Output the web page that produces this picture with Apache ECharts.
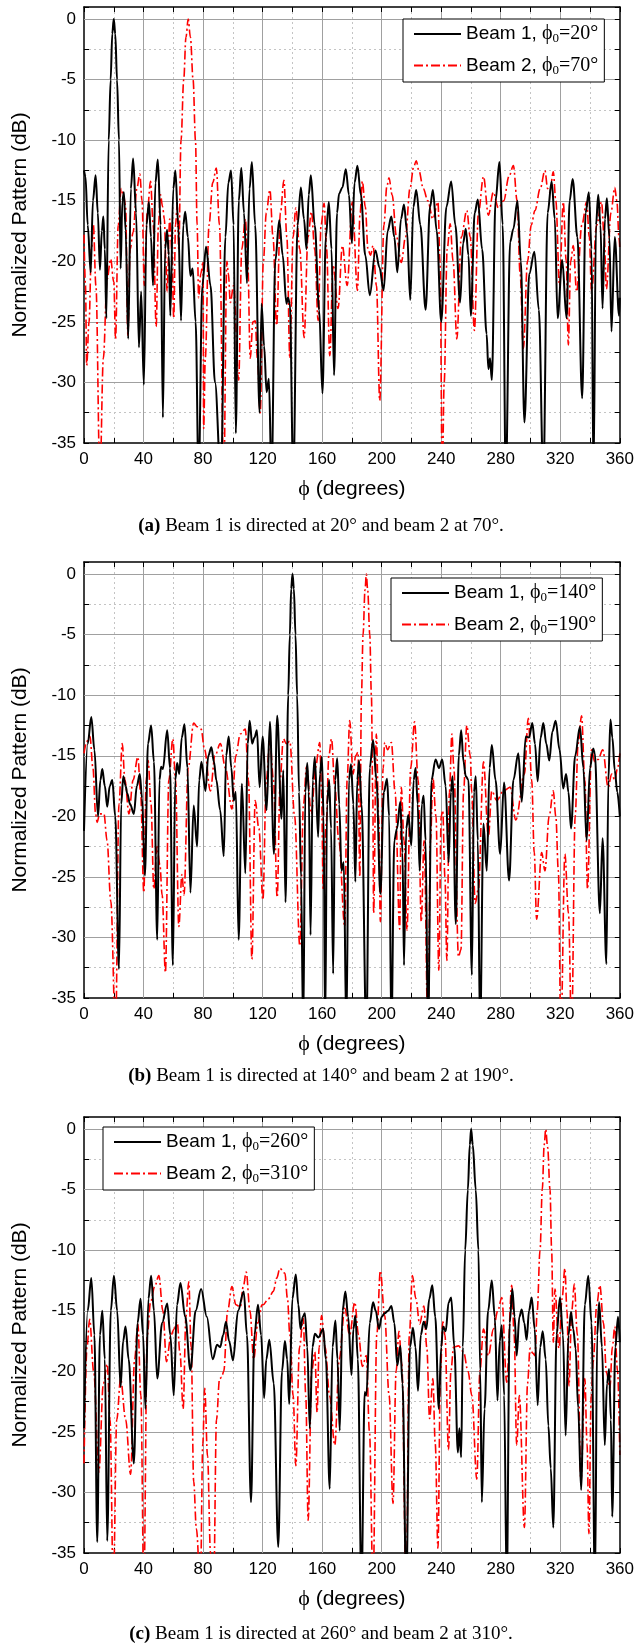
<!DOCTYPE html>
<html><head><meta charset="utf-8">
<script src="https://cdn.jsdelivr.net/npm/echarts@6/dist/echarts.min.js"></script>
<style>html,body{margin:0;padding:0;background:#fff}#c{width:637px;height:1649px}</style>
</head><body><div id="c"></div><script>
// ---------- DATA (phi in degrees, normalized pattern in dB) ----------
const steerAngles = [[20, 70], [140, 190], [260, 310]];
const panelLetters = ['a', 'b', 'c'];
const beamLabels = ['Beam 1', 'Beam 2'];

const panelA_beam1 = [[0,-12.5],[1,-13],[2.5,-17],[4.5,-20.9],[6,-15],[7.8,-12.9],[9.3,-16],[10.7,-20.7],[12,-17.5],[13,-16.3],[14,-19],[15,-24.7],[16.6,-10],[17.9,-5],[19,-1.2],[20,0],[21,-1.2],[22.2,-5],[23.5,-10],[24.6,-20.6],[25.8,-15],[26.8,-14.3],[28,-17.5],[29.7,-26.4],[31.5,-14],[33,-11.5],[35,-16],[36.9,-27.1],[38.4,-22.5],[40.2,-30.2],[42,-17],[43.6,-15.1],[45,-18],[46.4,-22],[48,-13.5],[49.6,-11.6],[51.5,-17],[53,-32.9],[54.5,-19],[55.8,-17.4],[57,-19.5],[58,-24.5],[60,-14],[61.4,-12.5],[63.3,-17],[65.2,-24.9],[66.7,-17],[68,-15.9],[69.8,-18],[71.5,-21.2],[73,-20.6],[75,-25],[77,-38],[79.5,-22],[82,-18.8],[85,-22],[88,-30],[92,-38],[95,-18],[97,-13.5],[98.8,-12.5],[100.5,-17],[102,-34.2],[104,-15],[105.7,-12.3],[107.5,-16],[109.5,-21.8],[111.2,-14],[112.8,-11.8],[115,-17],[118,-32.5],[119.3,-23.5],[121,-27],[122.7,-30.8],[124.2,-29.7],[126,-38],[128.5,-20],[131.2,-16.6],[133.5,-19.5],[136,-23.5],[137,-23],[138.3,-23.5],[140.6,-38],[143.5,-17],[145.7,-13.9],[147.8,-16.5],[149.5,-19],[151,-14.5],[152.4,-12.9],[155,-17],[158,-24],[160.2,-30.9],[162.5,-18],[164.5,-15.1],[166.3,-19],[168,-29.4],[170,-16],[171.4,-14.4],[173.6,-13.9],[175.9,-12.4],[178,-14.5],[180,-18.5],[181.8,-13.5],[183.7,-12.1],[186,-14.5],[189,-19.5],[192,-22.8],[195.8,-19.1],[198.5,-20.5],[201.3,-22.4],[204,-17.5],[206.5,-16.3],[208.5,-18],[210.5,-20.9],[213,-16.5],[215,-15.3],[217,-17.5],[219.2,-23.2],[221.3,-15.5],[223.2,-14.1],[226,-17],[229.5,-24],[232.5,-15.5],[234.4,-14.1],[237,-17.5],[240,-25],[243.5,-15.5],[246.7,-13.4],[249.5,-17],[252.7,-23.4],[254.7,-18.5],[256.5,-17.3],[258.3,-19.5],[259.9,-24.5],[262.5,-16],[264.6,-14.9],[267.5,-19],[270.5,-26],[271.7,-28.9],[272.8,-28],[274,-29.8],[276.5,-15],[279.1,-11.8],[281.3,-17],[283.4,-38],[286.3,-18.4],[288.5,-17.3],[291.2,-15],[293.5,-20],[295.9,-33.3],[299.2,-21],[302.6,-19.2],[305.6,-24],[308.6,-38],[311.5,-16],[314.2,-13.4],[316.3,-16.5],[318.2,-24.7],[321.3,-19.9],[324.2,-24.7],[326.3,-15],[328.3,-13.2],[331.5,-18],[334.7,-31.3],[337,-16],[339.2,-14.3],[341,-19],[342.3,-38],[344,-17],[345.5,-14.5],[347,-17],[348.4,-23.9],[350,-16.5],[351.3,-14.8],[353,-18],[354.4,-25.8],[356.6,-18],[359.5,-24.5],[360,-23]];

const panelA_beam2 = [[0,-17.8],[1,-22],[1.8,-28.6],[3.4,-25],[5,-19],[6.3,-17],[8,-22],[10.7,-38],[13,-28],[15.5,-21.5],[17.9,-19.8],[20,-21.7],[21.2,-26.4],[23,-17],[25,-14],[26.5,-14.5],[27.9,-15.4],[29.5,-26.1],[31,-19],[33,-17.6],[35.5,-14],[37.5,-12.8],[39,-15],[40.5,-22],[42.5,-16],[44.7,-13.4],[46.5,-17],[48.5,-25.4],[50,-17],[51.4,-14.5],[52.8,-15.5],[54,-16.5],[55,-20],[55.8,-22.5],[57.6,-16.5],[59,-19],[60.3,-24.7],[61.5,-17],[62.6,-15.4],[63.7,-19],[65.2,-10],[67,-5],[68.5,-1.5],[70,0],[71.5,-1.5],[73.3,-5],[74.9,-10],[76,-17],[77,-23],[78.5,-21],[80,-20],[80.4,-33.8],[81.5,-28],[84,-17],[86.5,-13.5],[88.9,-12.3],[91,-17],[93.9,-38],[96,-20],[97,-21],[98.3,-23.4],[100.5,-22],[103.9,-29.8],[106,-19],[108.4,-16.5],[110,-20],[111.7,-28],[113.5,-25],[115,-24.9],[116.5,-28],[118.4,-32.5],[120.5,-20],[122.5,-16],[124.9,-14.1],[127,-18],[129.4,-25.3],[132,-16],[134.3,-13.3],[136.3,-18],[138.3,-28],[140.5,-18],[142.3,-15.6],[145,-19],[147.9,-26.3],[150.5,-18],[152.8,-15.9],[155,-19],[157.3,-24.9],[159.3,-17],[161.3,-15.2],[163,-19],[165.1,-27.8],[167.4,-20.3],[170.7,-23.9],[173.6,-18.7],[176.8,-22],[180.3,-15.1],[183.7,-22.4],[185.5,-16],[187,-13.4],[189,-15.5],[190.8,-19],[192.5,-19.5],[194.2,-18.7],[196.5,-22],[198.7,-31.5],[201.5,-17],[203.5,-13.8],[204.9,-13.1],[207,-14.5],[210,-18],[213.2,-20.1],[216,-18],[219,-14],[221.5,-12.2],[223.2,-11.7],[225,-12.5],[228,-14],[231,-15],[234.4,-16.5],[237.8,-15.1],[239.2,-20],[240.7,-38],[242,-30],[244,-19],[246,-16.9],[248,-20],[250.5,-26.4],[253.5,-18],[257.2,-15.8],[259.5,-18],[262.3,-25.7],[265,-16],[268.4,-13],[271.7,-16.2],[275,-14.3],[278.4,-15.6],[282,-15],[285.5,-13],[288.5,-12.1],[291,-15],[293,-21],[295.2,-27.2],[298,-20],[300.5,-17],[303,-15.8],[306.5,-14],[309.7,-12.5],[311.5,-14],[313,-14.3],[315.3,-12.6],[317,-15],[319.5,-22],[322,-15.1],[324,-20],[325.4,-26.9],[327,-20],[328.7,-18.7],[331,-22.5],[334.5,-17],[337.7,-15.1],[339.5,-18],[341,-22.5],[344.5,-17],[347.7,-15.1],[349.5,-18],[351,-22.3],[354,-16],[356.6,-13.9],[358,-15],[359.5,-18.1],[360,-19]];

const panelB_beam1 = [[0,-21.2],[2.5,-14],[4.9,-11.8],[7,-14.5],[9.4,-20],[11,-17],[12.3,-16.1],[14,-17.5],[15.6,-19.2],[17.3,-17.5],[19,-17],[21,-20],[23.5,-32.6],[25,-19],[26.4,-16.7],[28,-17.5],[29,-18.1],[31,-19],[33.5,-19.8],[35.5,-17.5],[37.5,-16.5],[39,-18.5],[40.9,-24.9],[43,-14],[45.1,-12.5],[47,-15.5],[49.2,-30.2],[50.7,-17],[51.8,-15.9],[53,-16.1],[55.9,-12.9],[57.8,-16],[59.7,-32.3],[61.3,-17],[62.6,-15.6],[64,-16.5],[65.7,-13.5],[67.5,-12.4],[69.5,-16],[71.5,-26.3],[73.7,-19.1],[76,-22.5],[77.4,-17],[78.9,-15.5],[81.6,-17.9],[83.5,-15],[85.6,-14.3],[87.3,-15.5],[88.9,-17],[91.5,-19.5],[93.9,-23.3],[95.5,-15],[97.2,-13.4],[99,-16],[100.6,-18.7],[102,-18],[103.9,-30.2],[106.1,-17.3],[108.4,-24.7],[110,-14],[111.3,-12.1],[113,-14],[114.5,-13.5],[116.2,-12.9],[118,-17.6],[120,-13.4],[122.7,-19.5],[124.9,-12.2],[127.6,-23.1],[129.8,-11.7],[132.7,-20.2],[133.9,-16.2],[135.4,-27.1],[137.2,-10],[138.3,-5],[139.2,-1.2],[140.1,0],[141,-1.2],[142.1,-5],[143.2,-10],[144.5,-18],[145.8,-25],[147.3,-38],[148.7,-18],[150,-15.6],[151,-18],[152.2,-29.8],[153.7,-17],[155.1,-15.1],[157.3,-21.7],[158.5,-16.5],[159.8,-15.1],[161,-20],[162,-38],[163.3,-19],[164.7,-17],[166,-21],[167.4,-33],[168.8,-17],[170.1,-15.2],[171.5,-19],[173,-24.5],[174.5,-23.8],[176.3,-38],[178,-17],[179.4,-15.7],[181,-19],[182.3,-25.4],[183.6,-17],[184.8,-15.4],[186.5,-19],[189.7,-38],[192,-16],[194.2,-13.7],[196.5,-17],[199.1,-26.4],[201.5,-18],[203.6,-16.9],[205,-20],[206.5,-38],[208.5,-22],[210.3,-21],[212.5,-18.8],[214,-23],[215,-32.3],[216.5,-21],[217.9,-19.9],[219.9,-22.4],[221.5,-17],[222.8,-16],[224.2,-19],[225.5,-24.5],[227,-19],[228.2,-18.3],[229.5,-22],[231.1,-38],[233.5,-17],[236.2,-15.3],[238.5,-16],[240.7,-15.3],[243,-17.5],[245,-23.8],[246.5,-18],[247.6,-16.7],[249.8,-28.9],[251.8,-15],[253.4,-12.9],[255,-15.5],[256.5,-16.7],[258.3,-17],[260.6,-33.1],[262,-18],[263.2,-16.7],[264.6,-22],[266.1,-38],[268.4,-20.6],[270.6,-24.5],[272.5,-16],[274,-14.1],[276.5,-17],[279.6,-23.1],[282.2,-17.2],[285.6,-25.3],[288.5,-17],[291.8,-14.8],[294.1,-18.8],[296.8,-13.4],[299,-13.5],[301.2,-12.3],[303,-14],[304.8,-17.1],[306.8,-13.5],[308.6,-12.3],[310.6,-14],[312.6,-15.4],[314.7,-13],[316.9,-12.1],[319.5,-14.5],[322,-17.7],[323.9,-16.5],[325.5,-18],[327.2,-21],[330,-15],[333.2,-12.6],[335.5,-16],[337.7,-22],[340,-16],[342.1,-14.4],[343.2,-14.8],[346.6,-28],[348.4,-21.8],[351,-32.2],[352.3,-17],[353.7,-12],[355,-13.5],[356.6,-16.2],[358.3,-18],[360,-20]];

const panelB_beam2 = [[0,-14.8],[2,-13.8],[4,-13.4],[6,-16],[7.8,-19.8],[8.8,-20.5],[10.5,-19.8],[13.4,-19.8],[15.5,-22],[18,-27],[21.2,-38],[23.5,-19],[25.7,-14],[27.5,-17],[30.2,-19.8],[33,-17],[36.2,-15.1],[38,-18],[40.2,-26.3],[41.8,-17],[43.1,-15.4],[45,-19],[46.9,-26],[49,-22.5],[51,-24],[52.5,-26.5],[54.7,-32.9],[57,-17],[59.7,-13.6],[61.5,-17],[63.7,-29.1],[65.8,-24.8],[67.2,-26.5],[70,-16],[73.7,-12.3],[76,-12.6],[78.7,-12.8],[81,-14.5],[84.9,-17.9],[88,-15],[91.6,-14],[95,-16],[99.4,-19.4],[102,-15],[105,-13.2],[108.4,-12.8],[110.5,-17],[112.8,-31.8],[115,-18.7],[117.5,-21],[120.2,-26.9],[122.5,-17],[124.9,-13.7],[127.3,-17],[129.8,-26.7],[131.8,-17],[133.9,-13.6],[136,-14],[138.3,-13.8],[141.5,-20],[145,-30.7],[147.5,-19],[149.5,-15.9],[152.8,-19.8],[155.5,-16],[158.4,-13.9],[159.6,-18],[160.7,-26.1],[162.8,-20.5],[164.5,-15],[166.3,-13.6],[168.5,-17.5],[171.2,-22],[175.2,-29.1],[176.8,-17],[178.5,-12.1],[180.8,-16.5],[182.5,-15],[184.1,-14.7],[185.3,-25],[186.4,-10],[187.5,-5],[188.8,-1.3],[189.7,0],[190.6,-1.3],[192,-5],[193.1,-10],[194,-18],[194.6,-28],[196.4,-13.2],[198,-20],[199.1,-28.7],[201,-16],[202,-13.9],[204,-14.5],[206.5,-13.9],[209,-18],[212.1,-29.3],[213.2,-17.6],[215,-22],[217,-29.4],[219.5,-16],[222.1,-12.2],[224.5,-17],[226.6,-28.7],[228.5,-22],[231.1,-38],[232.8,-22],[234.4,-16.8],[236.5,-20],[238.4,-32.7],[240,-20],[241,-19.5],[242.5,-25],[243.8,-31.9],[245.5,-18],[247.2,-13.2],[248.5,-16],[251.6,-31.6],[253.3,-31],[255,-18],[257.2,-12.5],[259.5,-15],[260.5,-18],[262.8,-27.2],[265,-26],[268.4,-15.5],[271.7,-21.7],[274,-17.9],[277.3,-18.7],[281.8,-17.9],[286.3,-17.6],[290.1,-20.3],[295.9,-16.5],[298.5,-11.9],[300.8,-17],[302.5,-23],[304.1,-28.5],[307.5,-23],[309.7,-24.5],[312.5,-20],[315.3,-17.9],[317,-20],[318.7,-24.5],[320.4,-38],[323.1,-23.1],[325.5,-28],[327.6,-38],[330,-20],[332,-14],[334.3,-11.7],[336.5,-17],[338.3,-26],[341,-14.5],[343.2,-15.5],[345.5,-15.3],[348.5,-14.5],[352.2,-17.6],[354.5,-16.5],[356.6,-17],[358.5,-16],[360,-14.8]];

const panelC_beam1 = [[0,-24.7],[2.5,-15],[4.9,-12.3],[7,-17],[8.9,-34.1],[10.7,-17],[12.3,-15],[14,-19],[15.6,-34],[18,-15],[20.1,-12.1],[22.3,-15],[24.6,-21.3],[26.3,-17.5],[27.9,-16.3],[30,-19],[33.5,-27.6],[36,-16],[38,-14],[39.7,-17],[41.3,-23.1],[43.3,-14],[45.1,-12.1],[47,-15],[49.2,-20.6],[52.5,-16],[55.9,-14.4],[58,-17],[60.3,-22],[62.5,-14.5],[64.8,-12.7],[68,-15.5],[71.5,-19.9],[75,-15],[78.7,-13.2],[82.5,-15.5],[86.5,-19],[89.4,-17.8],[91.5,-18],[93.5,-17],[95.4,-15.9],[97.5,-17.5],[100.1,-19.1],[103.5,-15],[107.3,-13.4],[109.5,-17],[112.2,-30.8],[114.5,-17],[116.9,-14.5],[119,-17],[121,-22.2],[122.5,-19],[124.5,-17.4],[127.5,-21],[130.5,-34.5],[133,-20],[135,-17.5],[136.5,-19],[137.9,-22.7],[140,-14],[142.3,-12],[144,-14.5],[145.5,-16.5],[147,-15.5],[148.4,-15.2],[150,-18],[151.7,-24.7],[153.5,-18],[155.1,-16.9],[157.5,-17.2],[160.7,-16.5],[162.5,-19],[165.1,-29.7],[167,-18],[168.9,-15.8],[170.3,-19],[171.8,-24.9],[173.7,-15],[175.6,-13.4],[177.5,-15.5],[179.7,-20.3],[181,-16.5],[182.3,-15.4],[184,-19],[186.4,-38],[188.6,-21.7],[189.7,-22],[192,-16],[194.2,-14.3],[196,-15],[198.2,-16.5],[200,-15.5],[202,-15.2],[204.3,-15],[206.5,-14.6],[208.5,-16],[210.5,-19.5],[212.5,-17.9],[214,-21],[216.5,-38],[219,-18],[221,-16.4],[222.7,-18],[224.4,-21.6],[226.3,-17],[228.2,-15.9],[230,-16.5],[232,-14],[234,-12.9],[236,-15.5],[238.4,-23.1],[240,-18],[241.2,-16.3],[243,-16.7],[245,-14.3],[246.7,-13.9],[248.8,-18],[251.2,-26.7],[252.2,-24.7],[253.4,-27.1],[254.5,-18],[256.1,-10],[257.9,-5],[259.2,-1.3],[260.1,0],[261.2,-1.3],[263.2,-5],[265,-10],[266.2,-20],[267.3,-30.8],[269.1,-23.1],[271.5,-15],[274,-12.5],[276,-15.5],[277.8,-22.4],[279.3,-17.5],[280.7,-16.2],[282.3,-22],[284,-38],[286,-16],[287.8,-13.2],[289.3,-15.5],[290.7,-18.7],[292.5,-15.5],[294.1,-14.9],[295.8,-16],[297.4,-17.4],[299,-15],[300.8,-13.9],[302.8,-16.5],[304.8,-22.8],[306.5,-18],[308.2,-16.7],[310.2,-19],[312,-24.5],[313.6,-28],[315.3,-32.9],[317.5,-17],[319.8,-13.9],[321.8,-17],[323.6,-25.3],[325.5,-17],[327.2,-15.1],[328.7,-16.5],[330.3,-18.1],[332,-23],[334,-29.8],[336.5,-14.5],[338.8,-12.1],[341,-16],[343.3,-38],[344.8,-17],[346.1,-14.3],[348,-18],[349.9,-26.1],[351.4,-21],[352.8,-19.8],[354,-24],[354.9,-32],[357,-18],[358.8,-15.5],[360,-17.6]];

const panelC_beam2 = [[0,-27.6],[2,-18],[3.8,-15.7],[6.5,-20],[10,-28.3],[13,-21],[15.6,-19.4],[17.5,-24],[19.7,-38],[22,-24],[24.6,-20.6],[28,-24],[31.3,-28.5],[34,-19],[36.2,-16.1],[38.2,-22],[40.2,-38],[42.5,-17],[44.7,-14.3],[47.5,-13],[50.3,-12.1],[53,-15],[55.4,-19.2],[58.5,-17],[60.5,-16.5],[62.6,-15.9],[64.5,-18.5],[66.6,-23.1],[68.5,-15.5],[70.4,-12.6],[72,-18],[73.7,-29.1],[75.5,-33],[78.2,-38],[79.8,-26],[81.1,-21.4],[83,-27],[85,-35],[87.1,-38],[89,-24],[91.1,-20.6],[92.5,-20.5],[93.9,-20],[96.5,-15],[99.4,-13],[102,-14.5],[105,-14.7],[107,-13],[109,-11.8],[111.5,-15],[114,-19],[116.8,-16],[119.6,-14.5],[120.4,-14.5],[124,-14],[127.2,-13.4],[129.5,-12.3],[131.6,-11.5],[135,-11.9],[136.7,-14],[138.3,-17],[140.5,-22],[142.3,-27.8],[144.8,-18],[147.3,-15.6],[149,-22],[150.6,-32.3],[153,-20],[155.1,-18.4],[156.6,-23.4],[158,-18],[159.6,-15.4],[162,-18],[165,-22],[168.5,-26.1],[171.5,-19],[175.2,-14.8],[178.5,-17],[181.9,-14.3],[184.5,-17],[187,-19.6],[189.7,-18.7],[191.8,-25],[194.2,-38],[196.7,-17],[199.1,-11.7],[202,-15.4],[205,-22],[207.6,-30.9],[209.7,-20],[211.6,-16.7],[213.5,-19.4],[216.5,-38],[218.6,-17],[220.6,-12.1],[223,-14],[225.5,-16.1],[228.4,-14.6],[230.3,-18],[232.2,-23.9],[234.4,-20.6],[236,-26],[237.8,-34.6],[239.5,-20],[241.1,-15.9],[242.5,-17],[244.9,-26.5],[246.5,-20],[248.3,-18],[251.6,-17.9],[255,-18.4],[258,-20],[260.6,-22],[263.9,-28.9],[266,-20],[268.4,-16.5],[271.7,-18.7],[275.1,-16.5],[278,-15],[280.7,-13.9],[284,-20.9],[287.4,-12.9],[289,-17],[290.7,-26.1],[292.5,-22],[295.9,-32.9],[298,-21],[299.7,-18.1],[301.5,-18.5],[303,-18.7],[304.5,-15],[306.4,-10],[307.9,-5],[309.2,-1.3],[310.2,0],[311.5,-1.5],[313.1,-5],[314.2,-10],[315.3,-17.6],[316.4,-13.2],[319.1,-18.1],[321.2,-14],[323.1,-11.5],[324.5,-15],[325.8,-21.2],[327.7,-15],[329.4,-12.8],[331.5,-17],[333.9,-29.1],[336.5,-20.6],[338,-26],[339.2,-33.4],[340.8,-22],[342.1,-19.2],[344.5,-14.5],[346.6,-12.9],[349,-16],[351,-20.1],[353.3,-21.4],[355,-18],[356.6,-16.3],[358.5,-20],[360,-26.9]];

const panelData = [[panelA_beam1, panelA_beam2], [panelB_beam1, panelB_beam2], [panelC_beam1, panelC_beam2]];

// ---------- LAYOUT / STYLE ----------
const SANS = '"Liberation Sans", Arial, Helvetica, sans-serif';
const SERIF = '"Liberation Serif", "Times New Roman", Times, serif';
const gridTops = [7, 562, 1117];
const gridLeft = 84, gridW = 538, gridH = 436;
const legendPos = [{left: 403, top: 19}, {left: 391, top: 578}, {left: 103, top: 1127}];
const captionY = [526, 1076, 1634];
const beamColors = ['#000000', '#ff0000'];
const beamLineTypes = ['solid', [9, 3, 2, 3]];
const beamWidths = [2, 1.6];

const grids = [], xAxes = [], yAxes = [], series = [], legends = [], graphics = [];
const frame = {color: '#000', width: 1.5};
const dotted = {color: '#c4c4c4', width: 1, type: [2, 3]};
const solid = {color: '#a0a0a0', width: 1, type: 'solid'};

function seriesName(p, b) { return beamLabels[b] + ', ϕ0=' + steerAngles[p][b] + '°'; }

for (let p = 0; p < 3; p++) {
  grids.push({left: gridLeft, top: gridTops[p], width: gridW, height: gridH, show: false});
  xAxes.push({gridIndex: p, type: 'value', min: 0, max: 360, interval: 20, position: 'bottom', z: 1,
    axisLine: {show: true, onZero: false, lineStyle: frame},
    axisTick: {show: true, inside: true, length: 5, lineStyle: {color: '#000', width: 1}},
    axisLabel: {show: true, color: '#000', fontSize: 17, fontFamily: SANS, margin: 8,
      formatter: v => (v % 40 === 0 ? String(v) : '')},
    splitLine: {show: true, showMinLine: false, showMaxLine: false, lineStyle: dotted},
    name: '{p|ϕ} (degrees)', nameLocation: 'middle', nameGap: 35,
    nameTextStyle: {color: '#000', fontSize: 21, fontFamily: SANS, rich: {p: {fontFamily: SERIF, fontSize: 22, color: '#000'}}}
  });
  xAxes.push({gridIndex: p, type: 'value', min: 0, max: 360, interval: 20, position: 'top', z: 5,
    axisLine: {show: true, onZero: false, lineStyle: frame},
    axisTick: {show: true, inside: true, length: 5, lineStyle: {color: '#000', width: 1}},
    axisLabel: {show: false}, splitLine: {show: false}});
  xAxes.push({gridIndex: p, type: 'value', min: 0, max: 360, interval: 40, position: 'bottom', z: 2,
    axisLine: {show: false}, axisTick: {show: false}, axisLabel: {show: false},
    splitLine: {show: true, showMinLine: false, showMaxLine: false, lineStyle: solid}});

  yAxes.push({gridIndex: p, type: 'value', min: -35, max: 1, interval: 2.5, position: 'left', z: 1,
    axisLine: {show: true, onZero: false, lineStyle: frame},
    axisTick: {show: true, inside: true, length: 5, lineStyle: {color: '#000', width: 1}},
    axisLabel: {show: true, color: '#000', fontSize: 17, fontFamily: SANS, margin: 8,
      formatter: v => ((Math.abs(v % 5) < 1e-9 && v <= 0) ? String(v) : '')},
    splitLine: {show: true, showMinLine: false, showMaxLine: false, lineStyle: dotted},
    name: 'Normalized Pattern (dB)', nameLocation: 'middle', nameGap: 53,
    nameTextStyle: {color: '#000', fontSize: 21, fontFamily: SANS}
  });
  yAxes.push({gridIndex: p, type: 'value', min: -35, max: 1, interval: 2.5, position: 'right', z: 5,
    axisLine: {show: true, onZero: false, lineStyle: frame},
    axisTick: {show: true, inside: true, length: 5, lineStyle: {color: '#000', width: 1}},
    axisLabel: {show: false}, splitLine: {show: false}});
  yAxes.push({gridIndex: p, type: 'value', min: -35, max: 1, interval: 5, position: 'left', z: 2,
    axisLine: {show: false}, axisTick: {show: false}, axisLabel: {show: false},
    splitLine: {show: true, showMinLine: false, showMaxLine: false, lineStyle: solid}});

  const names = [];
  for (let b = 0; b < 2; b++) {
    const nm = seriesName(p, b);
    names.push(nm);
    series.push({
      name: nm, type: 'line', xAxisIndex: 3 * p, yAxisIndex: 3 * p,
      data: panelData[p][b], showSymbol: false, symbol: 'none',
      smooth: 0.35, smoothMonotone: 'x', clip: true, z: 3 + (1 - b),
      lineStyle: {color: beamColors[b], width: beamWidths[b], type: beamLineTypes[b]},
      itemStyle: {color: beamColors[b]}
    });
  }
  legends.push({
    data: names, orient: 'vertical', left: legendPos[p].left, top: legendPos[p].top,
    itemWidth: 47, itemHeight: 14, itemGap: 10, padding: [5, 6, 5, 10],
    borderColor: '#000', borderWidth: 1, borderRadius: 0, backgroundColor: '#fff',
    selectedMode: false,
    itemStyle: {opacity: 0, borderWidth: 0},
    formatter: function (name) {
      const m = name.match(/^(.*), ϕ0=(\d+)°$/);
      return '{s|' + m[1] + ', }{f|ϕ}{sub|0}{f|=' + m[2] + '°}';
    },
    textStyle: {color: '#000', fontFamily: SANS, fontSize: 19,
      rich: {
        s: {fontFamily: SANS, fontSize: 19, lineHeight: 23, color: '#000'},
        f: {fontFamily: SERIF, fontSize: 20, lineHeight: 23, color: '#000'},
        sub: {fontFamily: SERIF, fontSize: 13, lineHeight: 13, verticalAlign: 'bottom', color: '#000'}
      }}
  });
  graphics.push({
    type: 'text', x: 321, y: captionY[p],
    style: {
      text: '{b|(' + panelLetters[p] + ')} Beam 1 is directed at ' + steerAngles[p][0] + '° and beam 2 at ' + steerAngles[p][1] + '°.',
      fontFamily: SERIF, fontSize: 19, fill: '#000', align: 'center', verticalAlign: 'middle',
      rich: {b: {fontFamily: SERIF, fontSize: 19, fontWeight: 'bold', fill: '#000'}}
    }
  });
}

const chart = echarts.init(document.getElementById('c'), null, {renderer: 'canvas'});
chart.setOption({
  animation: false,
  backgroundColor: '#fff',
  grid: grids, xAxis: xAxes, yAxis: yAxes, series: series, legend: legends, graphic: graphics
});
</script></body></html>
